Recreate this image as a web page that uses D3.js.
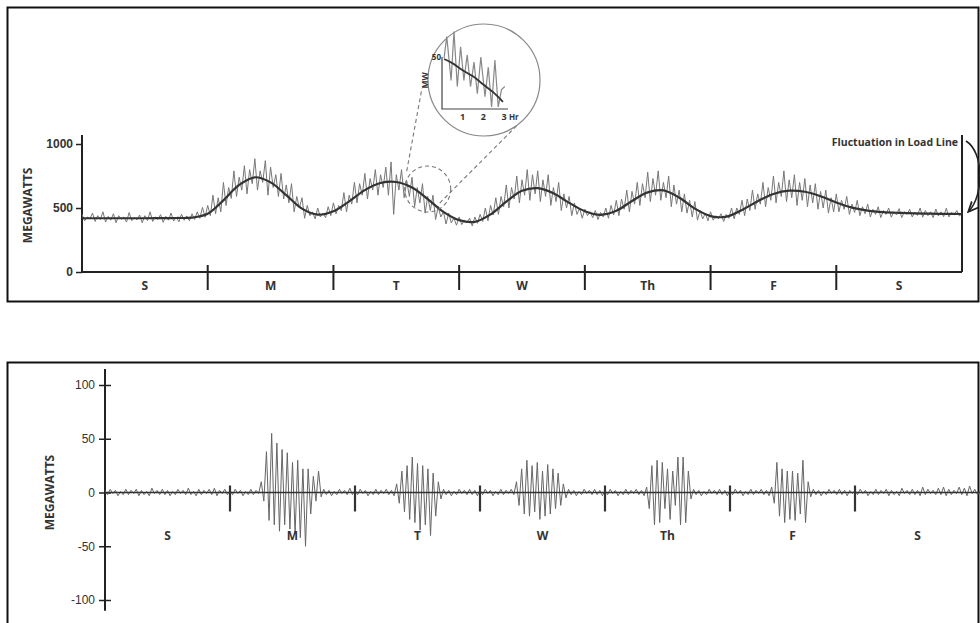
<!DOCTYPE html>
<html>
<head>
<meta charset="utf-8">
<script src="https://cdn.jsdelivr.net/npm/d3@7"></script>
<style>
  body { margin: 0; background: #fff; }
  svg { display: block; font-family: "Open Sans", "Noto Sans", sans-serif; }
  .lbl { font-weight: 700; fill: #333; }
</style>
</head>
<body>
<div id="chart"></div>
<script>
// day labels and tick values
var days = ["S", "M", "T", "W", "Th", "F", "S"];
var dayBreaks = [24, 48, 72, 96, 120, 144];
var dayMids = [12, 36, 60, 84, 108, 132, 156];
var topTicks = [0, 500, 1000];
var bottomTicks = [-100, -50, 0, 50, 100];

// smooth load line, one value every 3 hours (MW)
var loadHours = d3.range(0, 169, 3);
var loadLine = [420, 420, 420, 420, 420, 421, 422, 425,
  455, 560, 680, 740, 700, 600, 495, 448,
  475, 552, 640, 695, 703, 660, 570, 470,
  405, 392, 450, 550, 635, 655, 615, 540,
  475, 447, 478, 555, 622, 638, 582, 495,
  437, 432, 485, 553, 610, 635, 627, 592,
  543, 503, 480, 468, 462, 458, 456, 454, 453];

// measured load, every half hour (MW)
var loadMeasured = [
  // S
  450,400,430,415,460,395,440,410,470,390,435,405,455,385,440,412,430,390,465,400,425,408,445,385,
  440,402,470,395,430,410,448,388,435,405,460,398,428,392,452,404,438,400,455,410,470,420,505,428,
  // M
  520,440,600,455,580,470,700,520,660,575,790,590,740,640,830,610,800,690,885,640,790,700,870,600,
  820,660,760,590,770,570,680,540,690,470,590,500,580,420,520,440,470,415,500,430,460,425,510,440,
  // T
  540,455,520,480,620,470,600,530,700,540,690,600,770,570,730,640,800,600,760,660,820,600,860,450,
  760,640,800,580,710,590,740,510,660,540,690,460,590,480,600,410,510,430,470,375,460,385,420,365,
  // W
  430,370,405,385,420,360,430,380,450,395,500,400,520,445,580,450,590,510,680,500,660,570,750,540,
  720,600,800,560,760,610,790,550,720,590,760,520,660,550,700,480,610,500,590,440,540,450,500,420,
  // Th
  490,440,470,425,480,410,465,430,500,420,520,445,560,440,570,490,640,470,630,530,700,520,690,580,
  780,550,730,600,790,560,700,580,750,510,680,530,640,470,610,460,560,430,550,405,480,415,460,400,
  // F
  470,405,440,415,455,395,450,420,500,415,500,450,560,440,570,480,640,490,610,530,700,510,660,560,
  750,540,700,590,790,550,720,580,760,520,700,560,730,510,680,540,690,490,630,500,640,460,580,470,
  // S
  610,470,560,490,590,450,530,465,560,440,510,455,530,430,490,450,510,425,480,450,500,428,470,446,
  495,425,470,450,490,430,468,442,500,428,480,440,470,425,492,438,470,432,498,430,465,445,480,438,
  455];

// fluctuation in load line, every half hour (MW)
var fluctuation = [
  // S
  2,-2,3,-1,2,-3,1,-2,3,-2,2,-1, 3,-3,2,-2,1,-3,4,-1,2,-2,3,-2, 2,-3,1,-2,3,-1,2,-2,4,-2,1,-3, 3,-2,2,-1,3,-2,4,-3,2,-1,3,-2,
  // M
  2,-2,3,-1,2,-3,1,-2,3,-2,2,-1,
  10,-8,38,-26,55,-30,46,-36,40,-30,37,-34,28,-38,30,-42,22,-50,22,-20,15,-8,20,-4,
  3,-2,2,-3,1,-2,3,-1,2,-2,4,-2,
  // T
  2,-2,3,-1,2,-3,1,-2,3,-2,2,-1,3,-2,2,-3,
  8,-10,20,-18,25,-25,33,-28,27,-35,25,-30,22,-40,18,-22,10,-6,
  3,-2,2,-3,1,-2,3,-1,2,-2,3,-2,2,-3,
  // W
  2,-2,3,-1,2,-3,1,-2,3,-2,2,-1,3,-2,
  10,-12,22,-20,30,-22,25,-18,28,-25,20,-22,26,-20,22,-15,18,-12,8,-5,
  3,-2,2,-3,1,-2,3,-1,2,-2,3,-2,2,-3,
  // Th
  2,-2,3,-1,2,-3,1,-2,3,-2,2,-1,3,-2,2,-3,
  5,-15,25,-30,30,-28,28,-15,22,-25,20,-12,33,-30,33,-28,20,-6,
  3,-2,2,-3,1,-2,3,-1,2,-2,3,-2,2,-3,
  // F
  2,-2,3,-1,2,-3,1,-2,3,-2,2,-1,3,-2,2,-3,
  5,-10,28,-22,22,-28,20,-25,20,-26,18,-20,30,-28,10,-4,
  3,-2,2,-3,1,-2,3,-1,2,-2,3,-2,2,-3,2,-1,
  // S
  2,-2,3,-1,2,-3,1,-2,3,-2,2,-1, 3,-3,2,-2,1,-3,4,-1,2,-2,3,-2, 2,-3,5,-2,3,-1,2,-2,4,-2,5,-3, 3,-2,2,-1,5,-2,4,-3,6,-1,3,-2,
  0];

// inset: three hours of a falling load (MW)
var insetTicks = [1, 2, 3];
var insetTrendHours = [0.1, 0.5, 1, 1.5, 2, 2.5, 2.95];
var insetTrend = [49, 45, 38, 32, 24, 16, 7];
var insetHours = [0.1, 0.23, 0.44, 0.58, 0.74, 0.9, 1.06, 1.22, 1.38, 1.55, 1.71, 1.88, 2.08, 2.24, 2.4, 2.56, 2.72, 2.88, 3.04];
var insetMeasured = [50, 71, 28, 76, 22, 61, 28, 53, 22, 46, 15, 51, 12, 41, 2, 48, 2, 19, 22];

var width = 980;
var height = 623;

var svg = d3.select('#chart')
  .append('svg')
  .attr('width', width)
  .attr('height', height);

// frames
svg.append('rect')
  .attr('x', 7.5).attr('y', 7.5)
  .attr('width', 971).attr('height', 294)
  .style('fill', 'none').style('stroke', '#111').style('stroke-width', 2);
svg.append('rect')
  .attr('x', 7.5).attr('y', 362.5)
  .attr('width', 971).attr('height', 280)
  .style('fill', 'none').style('stroke', '#111').style('stroke-width', 2);

var halfHours = function(arr) { return arr.map(function(v, i) { return [i * 0.5, v]; }); };
var plain = function(d) { return String(d); };

//---------------- top chart ----------------
function topChart() {
  var x = d3.scaleLinear().domain([0, 168]).range([82, 962]);
  var y = d3.scaleLinear().domain([0, 1000]).range([272, 144]);
  var g = svg.append('g').attr('class', 'top');

  // y axis
  var yAxis = g.append('g')
    .attr('transform', 'translate(' + x(0) + ',0)')
    .call(d3.axisLeft(y).tickValues(topTicks).tickFormat(plain).tickSize(6).tickPadding(3));
  yAxis.select('.domain').remove();
  yAxis.selectAll('line').style('stroke', '#222').style('stroke-width', 1.5);
  yAxis.selectAll('text').attr('class', 'lbl').style('font-size', '12px').style('font-family', null);

  g.append('line')
    .attr('x1', x(0)).attr('x2', x(0))
    .attr('y1', y(0)).attr('y2', y(1070))
    .style('stroke', '#222').style('stroke-width', 2);
  g.append('line')
    .attr('x1', x(168)).attr('x2', x(168))
    .attr('y1', y(0)).attr('y2', y(1070))
    .style('stroke', '#222').style('stroke-width', 2);
  g.append('line')
    .attr('x1', x(0)).attr('x2', x(168))
    .attr('y1', y(0)).attr('y2', y(0))
    .style('stroke', '#222').style('stroke-width', 2);

  // day separators
  g.selectAll('.daytick').data(dayBreaks).enter()
    .append('line')
    .attr('x1', function(d) { return x(d); }).attr('x2', function(d) { return x(d); })
    .attr('y1', y(0) - 7).attr('y2', y(0) + 18)
    .style('stroke', '#222').style('stroke-width', 2);
  g.selectAll('.daylabel').data(dayMids).enter()
    .append('text')
    .attr('class', 'lbl')
    .attr('x', function(d) { return x(d); })
    .attr('y', y(0) + 18)
    .attr('text-anchor', 'middle')
    .style('font-size', '12px')
    .text(function(d, i) { return days[i]; });

  g.append('text')
    .attr('class', 'lbl')
    .attr('transform', 'translate(32,' + y(520) + ') rotate(-90)')
    .attr('text-anchor', 'middle')
    .style('font-size', '12px')
    .text('MEGAWATTS');

  // lines
  var line = d3.line()
    .x(function(d) { return x(d[0]); })
    .y(function(d) { return y(d[1]); });
  g.append('path')
    .datum(halfHours(loadMeasured))
    .attr('d', line)
    .style('fill', 'none').style('stroke', '#777').style('stroke-width', 1);
  g.append('path')
    .datum(loadHours.map(function(h, i) { return [h, loadLine[i]]; }))
    .attr('d', line.curve(d3.curveCatmullRom))
    .style('fill', 'none').style('stroke', '#333').style('stroke-width', 2.2);

  // callout circle and connectors to the inset
  var cx = x(66), cy = y(648);
  var ic = [484, 80], ir = 56;
  g.append('circle')
    .attr('cx', cx).attr('cy', cy).attr('r', 23)
    .style('fill', 'none').style('stroke', '#777').style('stroke-width', 1.1)
    .style('stroke-dasharray', '4,3');
  g.append('line')
    .attr('x1', cx - 21).attr('y1', cy - 18)
    .attr('x2', ic[0] - ir - 6).attr('y2', ic[1] + 8)
    .style('stroke', '#777').style('stroke-width', 1.1).style('stroke-dasharray', '4,3');
  g.append('line')
    .attr('x1', cx + 12).attr('y1', cy + 14)
    .attr('x2', ic[0] + ir * 0.62).attr('y2', ic[1] + ir * 0.78)
    .style('stroke', '#777').style('stroke-width', 1.1).style('stroke-dasharray', '4,3');

  // inset
  var inset = g.append('g').attr('class', 'inset');
  inset.append('circle')
    .attr('cx', ic[0]).attr('cy', ic[1]).attr('r', ir)
    .style('fill', '#fff').style('stroke', '#888').style('stroke-width', 1.2);
  var ix = d3.scaleLinear().domain([0, 3]).range([442, 504]);
  var iy = d3.scaleLinear().domain([0, 50]).range([109, 58]);
  var iline = d3.line()
    .x(function(d) { return ix(d[0]); })
    .y(function(d) { return iy(d[1]); });
  inset.append('path')
    .datum(insetHours.map(function(h, i) { return [h, insetMeasured[i]]; }))
    .attr('d', iline)
    .style('fill', 'none').style('stroke', '#888').style('stroke-width', 1.2);
  inset.append('path')
    .attr('d', 'M' + ix(0) + ',' + iy(51) + 'V' + iy(0) + 'H' + (ix(3) + 4))
    .style('fill', 'none').style('stroke', '#444').style('stroke-width', 1.2);
  inset.selectAll('.itick').data(insetTicks).enter()
    .append('text')
    .attr('class', 'lbl')
    .attr('x', function(d) { return ix(d); })
    .attr('y', iy(0) + 11)
    .attr('text-anchor', 'middle')
    .style('font-size', '9px')
    .text(function(d) { return d; });
  inset.append('text').attr('class', 'lbl')
    .attr('x', ix(3) + 5).attr('y', iy(0) + 11)
    .style('font-size', '8px').text('Hr');
  inset.append('text').attr('class', 'lbl')
    .attr('x', ix(0) - 1).attr('y', iy(50) + 2)
    .attr('text-anchor', 'end')
    .style('font-size', '8px').text('50');
  inset.append('text').attr('class', 'lbl')
    .attr('transform', 'translate(' + (ix(0) - 14) + ',' + iy(28) + ') rotate(-90)')
    .attr('text-anchor', 'middle')
    .style('font-size', '8.5px').text('MW');
  inset.append('path')
    .datum(insetTrendHours.map(function(h, i) { return [h, insetTrend[i]]; }))
    .attr('d', iline.curve(d3.curveCatmullRom))
    .style('fill', 'none').style('stroke', '#333').style('stroke-width', 1.8);

  // annotation
  g.append('text')
    .attr('class', 'lbl')
    .attr('x', x(168) - 4).attr('y', 146)
    .attr('text-anchor', 'end')
    .style('font-size', '10.5px')
    .text('Fluctuation in Load Line');
  svg.append('defs').append('marker')
    .attr('id', 'arrow')
    .attr('viewBox', '0 0 10 10')
    .attr('refX', 8).attr('refY', 5)
    .attr('markerWidth', 7).attr('markerHeight', 7)
    .attr('orient', 'auto')
    .append('path')
    .attr('d', 'M0,1 L9,5 L0,9')
    .style('fill', 'none').style('stroke', '#222').style('stroke-width', 1.6);
  g.append('path')
    .attr('d', 'M966,141 C984,152 984,195 969,211')
    .attr('marker-end', 'url(#arrow)')
    .style('fill', 'none').style('stroke', '#222').style('stroke-width', 1.6);
}

//---------------- bottom chart ----------------
function bottomChart() {
  var x = d3.scaleLinear().domain([0, 168]).range([105, 980]);
  var y = d3.scaleLinear().domain([-100, 100]).range([600, 385]);
  var g = svg.append('g').attr('class', 'bottom');

  var yAxis = g.append('g')
    .attr('transform', 'translate(' + x(0) + ',0)')
    .call(d3.axisLeft(y).tickValues(bottomTicks).tickFormat(plain).tickSize(6).tickPadding(4));
  yAxis.select('.domain').remove();
  yAxis.selectAll('line').attr('x2', -6).attr('x1', 6).style('stroke', '#222').style('stroke-width', 1.5);
  yAxis.selectAll('text').style('font-size', '12px').style('fill', '#333').style('font-family', null);

  g.append('line')
    .attr('x1', x(0)).attr('x2', x(0))
    .attr('y1', y(-110)).attr('y2', y(115))
    .style('stroke', '#222').style('stroke-width', 2);

  g.append('text')
    .attr('class', 'lbl')
    .attr('transform', 'translate(54,' + y(0) + ') rotate(-90)')
    .attr('text-anchor', 'middle')
    .style('font-size', '12px')
    .text('MEGAWATTS');

  var line = d3.line()
    .x(function(d) { return x(d[0]); })
    .y(function(d) { return y(d[1]); });
  g.append('path')
    .datum(halfHours(fluctuation))
    .attr('d', line)
    .style('fill', 'none').style('stroke', '#666').style('stroke-width', 1);

  g.append('line')
    .attr('x1', x(0)).attr('x2', x(168))
    .attr('y1', y(0)).attr('y2', y(0))
    .style('stroke', '#333').style('stroke-width', 1.6);

  g.selectAll('.daytick').data(dayBreaks).enter()
    .append('line')
    .attr('x1', function(d) { return x(d); }).attr('x2', function(d) { return x(d); })
    .attr('y1', y(0) - 7).attr('y2', y(0) + 19)
    .style('stroke', '#333').style('stroke-width', 2.2);
  g.selectAll('.daylabel').data(dayMids).enter()
    .append('text')
    .attr('class', 'lbl')
    .attr('x', function(d) { return x(d); })
    .attr('y', y(0) + 47)
    .attr('text-anchor', 'middle')
    .style('font-size', '12px')
    .text(function(d, i) { return days[i]; });
}

topChart();
bottomChart();
</script>
</body>
</html>
